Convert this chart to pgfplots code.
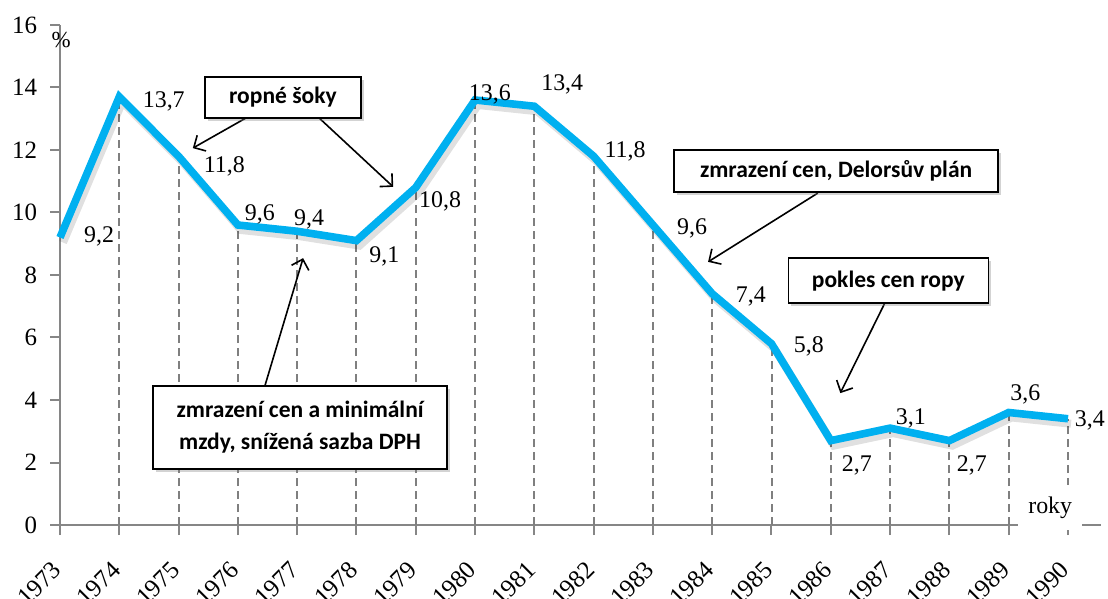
\documentclass[border=0pt]{standalone}
\usepackage{fontspec}
\setmainfont{Liberation Serif}
\newfontfamily\boxfont{Carlito}
\usepackage{pgfplots}
\pgfplotsset{compat=1.18}
\usetikzlibrary{arrows.meta,shadows}

\definecolor{linecyan}{HTML}{00B0F0}
\definecolor{axisgray}{HTML}{868686}
\definecolor{dropgray}{HTML}{7F7F7F}

\begin{document}
\begin{tikzpicture}[
  lbl/.style={font=\fontsize{12}{14}\selectfont, inner sep=0pt},
  note/.style={draw=black, line width=0.8bp, fill=white,
    font=\boxfont\bfseries\fontsize{11.8}{16}\selectfont, align=center, inner sep=0pt,
    drop shadow={shadow xshift=1.5bp, shadow yshift=-1.5bp, opacity=0.35, fill=gray}},
  arr/.style={line width=0.8bp, -{Straight Barb[length=4.5bp,width=9bp]}}
]
\begin{axis}[
  scale only axis,
  width=520.3bp, height=250bp,
  xmin=1973, xmax=1990.55, ymin=0, ymax=16,
  axis x line=bottom, axis y line=left,
  axis line style={-, draw=axisgray, line width=1bp},
  tick align=outside, major tick length=5bp,
  tick style={draw=axisgray, line width=1bp},
  xtick={1973,...,1990}, ytick={0,2,...,16},
  /pgf/number format/assume math mode=true,
  /pgf/number format/1000 sep={},
  tick label style={font=\fontsize{12.5}{14}\selectfont},
  xticklabel style={yshift=-13bp, xshift=1bp, rotate=45, anchor=east},
  yticklabel style={xshift=-3bp},
  clip=false,
]
% svislice k hodnotam
\addplot[ycomb, draw=dropgray, line width=1bp, dash pattern=on 4bp off 2.5bp] coordinates {
  (1974,13.7) (1975,11.8) (1976,9.6) (1977,9.4) (1978,9.1) (1979,10.8)
  (1980,13.6) (1981,13.4) (1982,11.8) (1983,9.6) (1984,7.4) (1985,5.8)
  (1986,2.7) (1987,3.1) (1988,2.7) (1989,3.6) (1990,3.4)
};
% stin krivky
\addplot[black, opacity=0.12, line width=4bp, xshift=1.5bp, yshift=-2.5bp] coordinates {
  (1973,9.2) (1974,13.7) (1975,11.8) (1976,9.6) (1977,9.4) (1978,9.1) (1979,10.8)
  (1980,13.6) (1981,13.4) (1982,11.8) (1983,9.6) (1984,7.4) (1985,5.8)
  (1986,2.7) (1987,3.1) (1988,2.7) (1989,3.6) (1990,3.4)
};
\addplot[linecyan, line width=3.8bp] coordinates {
  (1973,9.2) (1974,13.7) (1975,11.8) (1976,9.6) (1977,9.4) (1978,9.1) (1979,10.8)
  (1980,13.6) (1981,13.4) (1982,11.8) (1983,9.6) (1984,7.4) (1985,5.8)
  (1986,2.7) (1987,3.1) (1988,2.7) (1989,3.6) (1990,3.4)
};

\node[lbl] at (axis cs:1973.66,9.22) {9,2};
\node[lbl] at (axis cs:1974.75,13.57) {13,7};
\node[lbl] at (axis cs:1975.77,11.49) {11,8};
\node[lbl] at (axis cs:1976.37,9.95) {9,6};
\node[lbl] at (axis cs:1977.20,9.79) {9,4};
\node[lbl] at (axis cs:1978.47,8.61) {9,1};
\node[lbl] at (axis cs:1979.41,10.34) {10,8};
\node[lbl] at (axis cs:1980.25,13.79) {13,6};
\node[lbl] at (axis cs:1981.47,14.11) {13,4};
\node[lbl] at (axis cs:1982.53,11.97) {11,8};
\node[lbl] at (axis cs:1983.66,9.50) {9,6};
\node[lbl] at (axis cs:1984.65,7.30) {7,4};
\node[lbl] at (axis cs:1985.63,5.73) {5,8};
\node[lbl] at (axis cs:1986.44,1.92) {2,7};
\node[lbl] at (axis cs:1987.35,3.42) {3,1};
\node[lbl] at (axis cs:1988.38,1.92) {2,7};
\node[lbl] at (axis cs:1989.28,4.19) {3,6};
\node[lbl] at (axis cs:1990.37,3.36) {3,4};
\node[lbl, font=\fontsize{11.5}{14}\selectfont] at (axis cs:1973.02,15.52) {\%};

\coordinate (b1) at (axis cs:1976.76,13.68);
\coordinate (b2) at (axis cs:1977.05,3.12);
\coordinate (b3) at (axis cs:1986.09,11.33);
\coordinate (b4) at (axis cs:1986.97,7.82);
\coordinate (roky) at (axis cs:1989.70,0.56);

\coordinate (a1s) at (axis cs:1976.17,13.06); \coordinate (a1e) at (axis cs:1975.24,12.06);
\coordinate (a2s) at (axis cs:1977.35,13.06); \coordinate (a2e) at (axis cs:1978.62,10.82);
\coordinate (a3s) at (axis cs:1976.46,4.48);  \coordinate (a3e) at (axis cs:1977.10,8.54);
\coordinate (a4s) at (axis cs:1985.78,10.62); \coordinate (a4e) at (axis cs:1983.93,8.42);
\coordinate (a5s) at (axis cs:1986.91,7.10);  \coordinate (a5e) at (axis cs:1986.16,4.22);
\end{axis}

\draw[arr] (a1s) -- (a1e);
\draw[arr] (a2s) -- (a2e);
\draw[arr] (a3s) -- (a3e);
\draw[arr] (a4s) -- (a4e);
\draw[arr] (a5s) -- (a5e);

\node[note, minimum width=78bp, minimum height=20.5bp] at (b1) {ropné šoky};
\node[note, minimum width=147bp, minimum height=41.5bp] at (b2) {zmrazení cen a minimální\\mzdy, snížená sazba DPH};
\node[note, minimum width=162bp, minimum height=21bp] at (b3) {zmrazení cen, Delorsův plán};
\node[note, minimum width=100bp, minimum height=22.5bp] at (b4) {pokles cen ropy};
\node[fill=white, minimum width=32bp, minimum height=22.5bp, inner sep=0pt,
  font=\fontsize{12}{14}\selectfont] at (roky) {roky};

\pgfresetboundingbox
\path (-30bp,-37bp) rectangle (524bp,262.5bp);
\end{tikzpicture}
\end{document}
